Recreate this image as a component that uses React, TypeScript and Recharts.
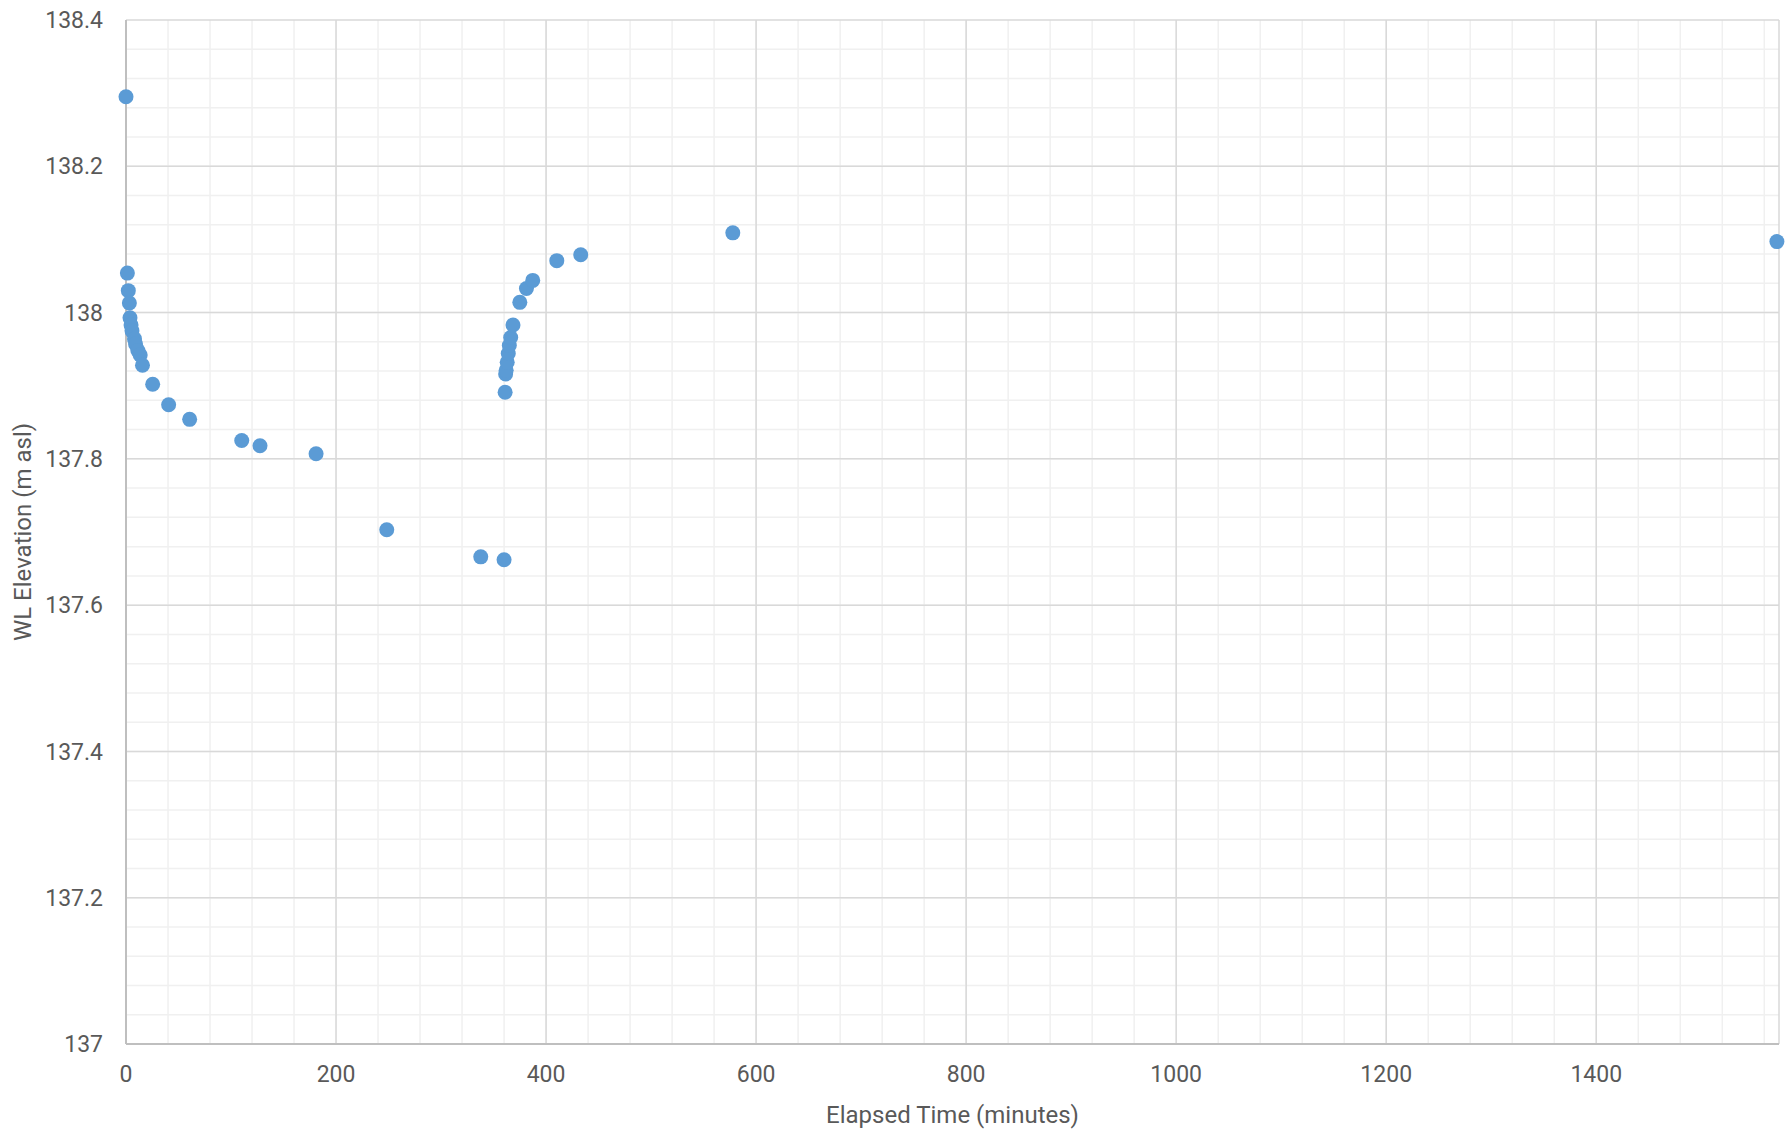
import React from "react";
import {
  ScatterChart,
  Scatter,
  XAxis,
  YAxis,
  CartesianGrid,
  Label,
} from "recharts";

// elapsed time (minutes) and water level elevation (m asl)
const elapsedMinutes = [
  0, 1.3, 2.2, 3.2, 3.8, 4.8, 5.7, 8.1, 9.1, 11.3, 13.5, 15.7,
  25.4, 40.6, 60.6, 110.2, 127.6, 181,
  248.3, 337.8, 360,
  361, 361.5, 362, 363, 364, 365, 366.3, 368.5,
  375, 381.3, 387.3, 410.2, 433, 577.8, 1572,
];
const wlElevation = [
  138.295, 138.054, 138.03, 138.013, 137.993, 137.983, 137.975, 137.964, 137.957, 137.948, 137.942, 137.928,
  137.902, 137.874, 137.854, 137.825, 137.818, 137.807,
  137.703, 137.666, 137.662,
  137.891, 137.916, 137.921, 137.932, 137.944, 137.955, 137.966, 137.983,
  138.014, 138.033, 138.044, 138.071, 138.079, 138.109, 138.097,
];

const xTicks = [0, 200, 400, 600, 800, 1000, 1200, 1400];
const yTicks = [137, 137.2, 137.4, 137.6, 137.8, 138, 138.2, 138.4];
const xMax = 1574;

// minor gridlines: every 40 minutes / every 0.04 m
const xMinor: number[] = [];
for (let v = 40; v < xMax; v += 40) xMinor.push(v);
const yMinor: number[] = [];
for (let i = 1; i < 35; i++) yMinor.push(+(137 + i * 0.04).toFixed(2));

const data = elapsedMinutes.map((t, i) => ({ x: t, y: wlElevation[i] }));

const TEXT = "#595959";
const FONT = "Roboto, 'Noto Sans', sans-serif";

export default function App() {
  return (
    <div style={{ position: "absolute", left: 0, top: 0, background: "#fff" }}>
      <ScatterChart
        width={1787}
        height={1136}
        margin={{ top: 20, right: 8, left: 0, bottom: 0 }}
        style={{ fontFamily: FONT }}
      >
        <CartesianGrid
          stroke="#f0f0f0"
          strokeWidth={1.5}
          horizontalValues={yMinor}
          verticalValues={xMinor}
        />
        <CartesianGrid stroke="#d9d9d9" strokeWidth={1.5} />
        <XAxis
          type="number"
          dataKey="x"
          domain={[0, xMax]}
          ticks={xTicks}
          height={92}
          tickLine={false}
          tickSize={0}
          tickMargin={22}
          axisLine={{ stroke: "#bfbfbf", strokeWidth: 2 }}
          tick={{ fill: TEXT, fontSize: 23 }}
        >
          <Label
            content={({ viewBox }: any) => (
              <text
                x={viewBox.x + viewBox.width / 2}
                y={viewBox.y + 71}
                textAnchor="middle"
                dominantBaseline="central"
                fill={TEXT}
                fontSize={24}
              >
                Elapsed Time (minutes)
              </text>
            )}
          />
        </XAxis>
        <YAxis
          type="number"
          dataKey="y"
          domain={[137, 138.4]}
          ticks={yTicks}
          width={126}
          tickLine={false}
          tickSize={0}
          tickMargin={23}
          axisLine={{ stroke: "#bfbfbf", strokeWidth: 2 }}
          tick={{ fill: TEXT, fontSize: 23 }}
        >
          <Label
            content={({ viewBox }: any) => {
              const cx = viewBox.x + 23;
              const cy = viewBox.y + viewBox.height / 2;
              return (
                <text
                  x={cx}
                  y={cy}
                  transform={`rotate(-90, ${cx}, ${cy})`}
                  textAnchor="middle"
                  dominantBaseline="central"
                  fill={TEXT}
                  fontSize={24}
                >
                  WL Elevation (m asl)
                </text>
              );
            }}
          />
        </YAxis>
        <Scatter
          data={data}
          isAnimationActive={false}
          shape={(p: any) => (
            <circle cx={p.cx} cy={p.cy} r={7.5} fill="#5b9bd5" />
          )}
        />
      </ScatterChart>
    </div>
  );
}
